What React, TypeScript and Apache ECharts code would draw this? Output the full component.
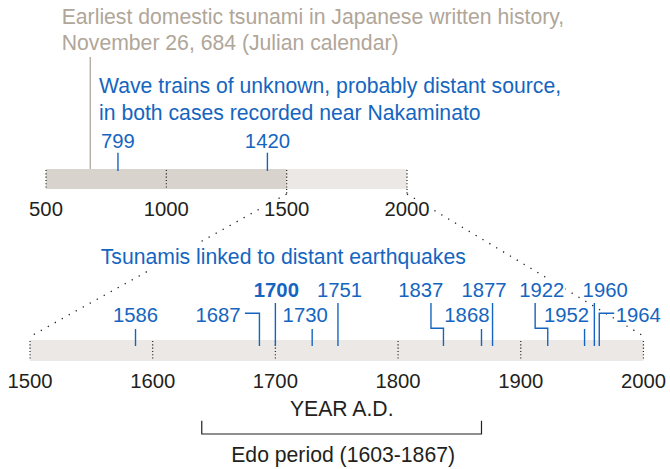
import React, { useEffect, useRef } from 'react';
import * as echarts from 'echarts';

// ---------------- data ----------------
const overviewTicks = [500, 1000, 1500, 2000];
const detailTicks = [1500, 1600, 1700, 1800, 1900, 2000];
const overviewSpans = [[500, 1500], [1500, 2000]];
const detailSpans = [[1500, 2000]];
const earliestYears = [684];
const unknownSourceYears = [799, 1420];
const distantQuakeYears = [1586, 1687, 1700, 1730, 1751, 1837, 1868, 1877, 1922, 1952, 1960, 1964];
const keyQuakeYear = 1700;
const edoBracket = [1640, 1868];

const titleLines = ['Earliest domestic tsunami in Japanese written history,', 'November 26, 684 (Julian calendar)'];
const waveLines = ['Wave trains of unknown, probably distant source,', 'in both cases recorded near Nakaminato'];
const quakeHeading = 'Tsunamis linked to distant earthquakes';
const axisTitle = 'YEAR A.D.';
const edoLabel = 'Edo period (1603-1867)';

// ---------------- layout (pixel offsets for label placement) ----------------
type Leader = 'straight' | 'armLeft' | 'armRight' | 'jog';
const quakeLayout: Record<number, { row: number; dx: number; leader: Leader; arm?: number }> = {
  1586: { row: 2, dx: 0, leader: 'straight' },
  1687: { row: 2, dx: -41.4, leader: 'armLeft', arm: 14.5 },
  1700: { row: 1, dx: 1, leader: 'straight' },
  1730: { row: 2, dx: -7, leader: 'straight' },
  1751: { row: 1, dx: 1.5, leader: 'straight' },
  1837: { row: 1, dx: -22.7, leader: 'jog', arm: 12.5 },
  1868: { row: 2, dx: -14.6, leader: 'straight' },
  1877: { row: 1, dx: -8.5, leader: 'straight' },
  1922: { row: 1, dx: -5.9, leader: 'jog', arm: 12.6 },
  1952: { row: 2, dx: -18, leader: 'straight' },
  1960: { row: 1, dx: 10.8, leader: 'straight' },
  1964: { row: 2, dx: 39, leader: 'armRight', arm: 15 },
};

const FONT = '"Liberation Sans", Arial, Helvetica, sans-serif';
const BLUE = '#1565c0';
const INK = '#231f20';
const GRAY_TEXT = '#b0a699';
const GRAY_LINE = '#b6aea3';
const DARK_FILL = '#d8d4cd';
const LIGHT_FILL = '#ece8e5';
const overviewFills = [DARK_FILL, LIGHT_FILL];
const NUM_SIZE = 20.3;
const WORD_SIZE = 21.2;

function textStyle(text: string, color: string, align: string, size: number, extra: any = {}) {
  return {
    text,
    fill: color,
    fontSize: size,
    fontFamily: FONT,
    align,
    textAlign: align,
    verticalAlign: 'middle',
    textVerticalAlign: 'middle',
    ...extra,
  };
}

export default function App() {
  const ref = useRef<HTMLDivElement>(null);

  useEffect(() => {
    const el = ref.current!;
    const chart = echarts.init(el, null, { renderer: 'svg' });

    const spanItem = (fills: string[]) => (params: any, api: any) => {
      const s = api.coord([api.value(0), 1]);
      const e = api.coord([api.value(1), 0]);
      return {
        type: 'rect',
        shape: { x: s[0], y: s[1], width: e[0] - s[0], height: e[1] - s[1] },
        style: { fill: fills[api.value(2)] },
      };
    };

    const gridDotsItem = (params: any, api: any) => {
      const t = api.coord([api.value(0), 1]);
      const b = api.coord([api.value(0), 0]);
      return {
        type: 'line',
        shape: { x1: t[0], y1: t[1] + 1, x2: b[0], y2: b[1] - 1 },
        style: { stroke: '#222', lineWidth: 1.2, lineDash: [1.1, 2.2] },
      };
    };

    const axisBase = {
      type: 'value',
      axisLine: { show: false },
      axisTick: { show: false },
      splitLine: { show: false },
      axisLabel: {
        fontSize: NUM_SIZE,
        fontFamily: FONT,
        color: INK,
        margin: 10,
        showMinLabel: true,
        showMaxLabel: true,
        backgroundColor: '#fff',
        padding: [0, 1],
        formatter: (v: number) => String(v),
      },
      z: 5,
    };

    const option: any = {
      animation: false,
      backgroundColor: '#fff',
      grid: [
        { left: 46, top: 169, width: 361, height: 20 },
        { left: 30, top: 340, width: 616, height: 21 },
      ],
      xAxis: [
        { ...axisBase, gridIndex: 0, min: 500, max: 2000, interval: 500 },
        {
          ...axisBase,
          gridIndex: 1,
          min: 1500,
          max: 2000,
          interval: 100,
          name: axisTitle,
          nameLocation: 'middle',
          nameGap: 37,
          nameTextStyle: { fontSize: WORD_SIZE, fontFamily: FONT, color: INK, padding: [0, 0, 0, 10] },
        },
      ],
      yAxis: [
        { type: 'value', gridIndex: 0, min: 0, max: 1, show: false },
        { type: 'value', gridIndex: 1, min: 0, max: 1, show: false },
      ],
      series: [
        {
          type: 'custom', name: 'overview spans', xAxisIndex: 0, yAxisIndex: 0, silent: true, z: 1,
          data: overviewSpans.map((s, i) => [s[0], s[1], i]),
          renderItem: spanItem(overviewFills),
        },
        {
          type: 'custom', name: 'detail spans', xAxisIndex: 1, yAxisIndex: 1, silent: true, z: 1,
          data: detailSpans.map((s) => [s[0], s[1], 0]),
          renderItem: spanItem([LIGHT_FILL]),
        },
        {
          type: 'custom', name: 'overview gridlines', xAxisIndex: 0, yAxisIndex: 0, silent: true, z: 2,
          data: overviewTicks.map((v) => [v, 0]),
          renderItem: gridDotsItem,
        },
        {
          type: 'custom', name: 'detail gridlines', xAxisIndex: 1, yAxisIndex: 1, silent: true, z: 2,
          data: detailTicks.map((v) => [v, 0]),
          renderItem: gridDotsItem,
        },
        {
          type: 'custom', name: 'earliest', xAxisIndex: 0, yAxisIndex: 0, silent: true, z: 3,
          data: earliestYears.map((v) => [v, 0]),
          renderItem: (params: any, api: any) => {
            const p = api.coord([api.value(0), 1]);
            return {
              type: 'line',
              shape: { x1: p[0], y1: p[1] - 112, x2: p[0], y2: p[1] },
              style: { stroke: GRAY_LINE, lineWidth: 1.4 },
            };
          },
        },
        {
          type: 'custom', name: 'unknown source', xAxisIndex: 0, yAxisIndex: 0, silent: true, z: 3,
          data: unknownSourceYears.map((v) => [v, 0]),
          renderItem: (params: any, api: any) => {
            const yr = api.value(0);
            const p = api.coord([yr, 1]);
            return {
              type: 'group',
              children: [
                {
                  type: 'line',
                  shape: { x1: p[0], y1: p[1] - 16.3, x2: p[0], y2: p[1] + 2 },
                  style: { stroke: BLUE, lineWidth: 1.4 },
                },
                {
                  type: 'text', x: p[0], y: p[1] - 28.3,
                  style: textStyle(String(yr), BLUE, 'center', NUM_SIZE),
                },
              ],
            };
          },
        },
        {
          type: 'custom', name: 'distant earthquakes', xAxisIndex: 1, yAxisIndex: 1, silent: true, z: 3,
          data: distantQuakeYears.map((v) => [v, 0]),
          renderItem: (params: any, api: any) => {
            const yr = api.value(0);
            const [x, top] = api.coord([yr, 1]);
            const L = quakeLayout[yr];
            const bottom = top + 6;
            let pts: number[][];
            if (L.leader === 'straight') pts = [[x, top + (L.row === 1 ? -37 : -11)], [x, bottom]];
            else if (L.leader === 'armLeft') pts = [[x - (L.arm || 0), top - 26.7], [x, top - 26.7], [x, bottom]];
            else if (L.leader === 'armRight') pts = [[x + (L.arm || 0), top - 26.7], [x, top - 26.7], [x, bottom]];
            else pts = [[x - (L.arm || 0), top - 37], [x - (L.arm || 0), top - 11.7], [x, top - 11.7], [x, bottom]];
            return {
              type: 'group',
              children: [
                { type: 'polyline', shape: { points: pts }, style: { stroke: BLUE, lineWidth: 1.4, fill: null } },
                {
                  type: 'text', x: x + L.dx, y: top + (L.row === 1 ? -50.3 : -24.7),
                  style: textStyle(String(yr), BLUE, 'center', NUM_SIZE, {
                    fontWeight: yr === keyQuakeYear ? 'bold' : 'normal',
                    backgroundColor: '#fff',
                    padding: [0, 1],
                  }),
                },
              ],
            };
          },
        },
        {
          type: 'custom', name: 'edo period', xAxisIndex: 1, yAxisIndex: 1, silent: true, z: 3,
          data: [[edoBracket[0], edoBracket[1]]],
          renderItem: (params: any, api: any) => {
            const a = api.coord([api.value(0), 0]);
            const b = api.coord([api.value(1), 0]);
            const gb = a[1];
            return {
              type: 'group',
              children: [
                {
                  type: 'polyline',
                  shape: { points: [[a[0], gb + 59.7], [a[0], gb + 73], [b[0], gb + 73], [b[0], gb + 59.7]] },
                  style: { stroke: INK, lineWidth: 1.2, fill: null },
                },
                {
                  type: 'text', x: (a[0] + b[0]) / 2 + 1.5, y: gb + 93.5,
                  style: textStyle(edoLabel, INK, 'center', WORD_SIZE),
                },
              ],
            };
          },
        },
      ],
    };

    chart.setOption(option);

    // connectors between overview zoom window and detail axis
    const zs = detailTicks[0];
    const ze = detailTicks[detailTicks.length - 1];
    const a = chart.convertToPixel({ gridIndex: 0 }, [zs, 0]) as number[];
    const b = chart.convertToPixel({ gridIndex: 1 }, [zs, 1]) as number[];
    const c = chart.convertToPixel({ gridIndex: 0 }, [ze, 0]) as number[];
    const d = chart.convertToPixel({ gridIndex: 1 }, [ze, 1]) as number[];
    const dotStyle = { stroke: '#222', lineWidth: 1.3, lineDash: [1.3, 6.7] };
    const dotShort = { stroke: '#222', lineWidth: 1.2, lineDash: [1.1, 2.2] };

    chart.setOption({
      graphic: [
        { id: 'extL', type: 'line', z: 1, silent: true, shape: { x1: a[0], y1: a[1], x2: a[0], y2: a[1] + 5 }, style: dotShort },
        { id: 'extR', type: 'line', z: 1, silent: true, shape: { x1: c[0], y1: c[1], x2: c[0], y2: c[1] + 5 }, style: dotShort },
        { id: 'diagL', type: 'line', z: 1, silent: true, shape: { x1: a[0], y1: a[1] + 5, x2: b[0] + 1, y2: b[1] - 4 }, style: dotStyle },
        { id: 'diagR', type: 'line', z: 1, silent: true, shape: { x1: c[0], y1: c[1] + 5, x2: d[0], y2: d[1] - 4 }, style: dotStyle },
        { id: 't1', type: 'text', z: 10, x: 61.7, y: 16, style: textStyle(titleLines[0], GRAY_TEXT, 'left', WORD_SIZE) },
        { id: 't2', type: 'text', z: 10, x: 61.7, y: 42.7, style: textStyle(titleLines[1], GRAY_TEXT, 'left', WORD_SIZE) },
        { id: 'w1', type: 'text', z: 10, x: 99, y: 85, style: textStyle(waveLines[0], BLUE, 'left', WORD_SIZE) },
        { id: 'w2', type: 'text', z: 10, x: 99, y: 112, style: textStyle(waveLines[1], BLUE, 'left', WORD_SIZE) },
        {
          id: 'qh', type: 'text', z: 10, x: 97.7, y: 256.7,
          style: textStyle(quakeHeading, BLUE, 'left', WORD_SIZE, { backgroundColor: '#fff', padding: [3, 3] }),
        },
      ],
    });

    return () => chart.dispose();
  }, []);

  return (
    <div
      ref={ref}
      style={{ position: 'fixed', left: 0, top: 0, width: 670, height: 469, background: '#fff' }}
    />
  );
}
